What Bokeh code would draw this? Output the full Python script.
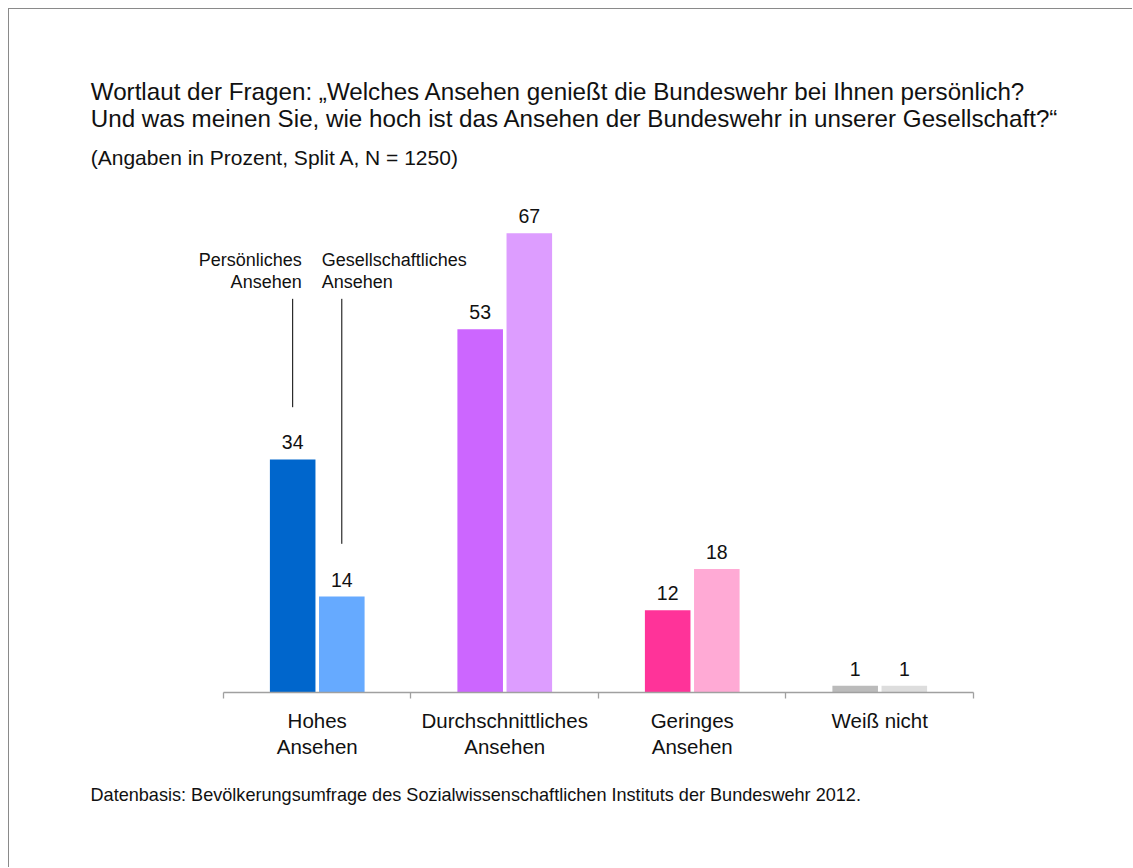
from bokeh.plotting import figure
from bokeh.models import Range1d, Label, FixedTicker, ColumnDataSource, Title
from bokeh.core.properties import value
from bokeh.embed import file_html
from bokeh.resources import INLINE

# ---------------- data ----------------
categories = ["Hohes\nAnsehen", "Durchschnittliches\nAnsehen", "Geringes\nAnsehen", "Weiß nicht"]
persoenlich = [34, 53, 12, 1]
gesellschaftlich = [14, 67, 18, 1]
colors_pers = ["#0066CC", "#CC66FF", "#FF3399", "#BBBBBB"]
colors_ges = ["#66AAFF", "#DD9DFF", "#FFAAD5", "#DDDDDD"]

title_lines = [
    "Wortlaut der Fragen: \u201eWelches Ansehen genießt die Bundeswehr bei Ihnen persönlich?",
    "Und was meinen Sie, wie hoch ist das Ansehen der Bundeswehr in unserer Gesellschaft?\u201c",
]
subtitle = "(Angaben in Prozent, Split A, N = 1250)"
footer = "Datenbasis: Bevölkerungsumfrage des Sozialwissenschaftlichen Instituts der Bundeswehr 2012."
series_pers_label = ["Persönliches", "Ansehen"]
series_ges_label = ["Gesellschaftliches", "Ansehen"]

FONT = "Liberation Sans"
TXT = "#111111"

W, H = 1124, 859
FRAME_H = 683
X_START = -1.1413
X_END = 4 + (W - 964) / 187.5
Y_END = 99.64

p = figure(width=W, height=H, output_backend="svg", toolbar_location=None,
           x_range=Range1d(X_START, X_END), y_range=Range1d(0, Y_END),
           y_axis_location=None, min_border_left=0, min_border_right=0,
           min_border_top=0, min_border_bottom=H - FRAME_H)
p.styles = {"margin-left": "8px", "margin-top": "8px",
            "border-top": "1px solid #8a8a8a", "border-left": "1px solid #8a8a8a",
            "border-right": "none", "border-bottom": "none"}
p.outline_line_color = None
p.xgrid.visible = False
p.ygrid.visible = False
p.background_fill_color = "white"
p.border_fill_color = "white"

n = len(categories)
OFF, BW = 0.131, 0.243
x_pers = [i + 0.5 - OFF for i in range(n)]
x_ges = [i + 0.5 + OFF for i in range(n)]

src_p = ColumnDataSource(dict(x=x_pers, top=persoenlich, color=colors_pers,
                              lab=[str(v) for v in persoenlich]))
src_g = ColumnDataSource(dict(x=x_ges, top=gesellschaftlich, color=colors_ges,
                              lab=[str(v) for v in gesellschaftlich]))

for src in (src_p, src_g):
    p.vbar(x="x", top="top", width=BW, bottom=0, fill_color="color", line_color=None, source=src)
    p.text(x="x", y="top", text="lab", source=src, text_align="center",
           text_baseline="alphabetic", y_offset=-17, text_font=value(FONT),
           text_font_size="19.5px", text_color=TXT)

# axis
ax = p.xaxis[0]
ax.ticker = FixedTicker(ticks=[i + 0.5 for i in range(n)], minor_ticks=list(range(n + 1)))
ax.major_label_overrides = {i + 0.5: c for i, c in enumerate(categories)}
ax.bounds = (0, n)
ax.major_tick_in = 0
ax.major_tick_out = 0
ax.minor_tick_in = 0
ax.minor_tick_out = 6
ax.axis_line_color = "#A0A0A0"
ax.axis_line_width = 1.3
ax.minor_tick_line_color = "#A0A0A0"
ax.minor_tick_line_width = 1.3
ax.major_label_text_font = FONT
ax.major_label_text_font_size = "20.5px"
ax.major_label_text_color = TXT
ax.major_label_text_line_height = 1.15
ax.major_label_standoff = 10

# titles
for txt, y in zip(title_lines, [87.70, 83.81]):
    p.add_layout(Label(x=-0.708, y=y, text=txt, text_font=FONT, text_font_size="24.2px",
                       text_color=TXT, text_baseline="alphabetic"))
p.add_layout(Label(x=-0.708, y=78.08, text=subtitle, text_font=FONT, text_font_size="21px",
                   text_color=TXT, text_baseline="alphabetic"))

# footer below the axis
p.add_layout(Title(text=footer, align="left", offset=81, standoff=44, text_font=FONT,
                   text_font_size="18.1px", text_font_style="normal", text_color=TXT), "below")

# series labels with leader lines
for txt, y in zip(series_pers_label, [63.05, 59.88]):
    p.add_layout(Label(x=x_pers[0], y=y, x_offset=9, text=txt, text_font=FONT,
                       text_font_size="18px", text_color=TXT, text_align="right",
                       text_baseline="alphabetic"))
for txt, y in zip(series_ges_label, [63.05, 59.88]):
    p.add_layout(Label(x=x_ges[0], y=y, x_offset=-20, text=txt, text_font=FONT,
                       text_font_size="18px", text_color=TXT, text_align="left",
                       text_baseline="alphabetic"))
p.segment(x0=[x_pers[0], x_ges[0]], y0=[57.43, 57.43], x1=[x_pers[0], x_ges[0]],
          y1=[41.62, 21.69], line_color="black", line_width=1)

open("out.html", "w").write(file_html(p, INLINE))
